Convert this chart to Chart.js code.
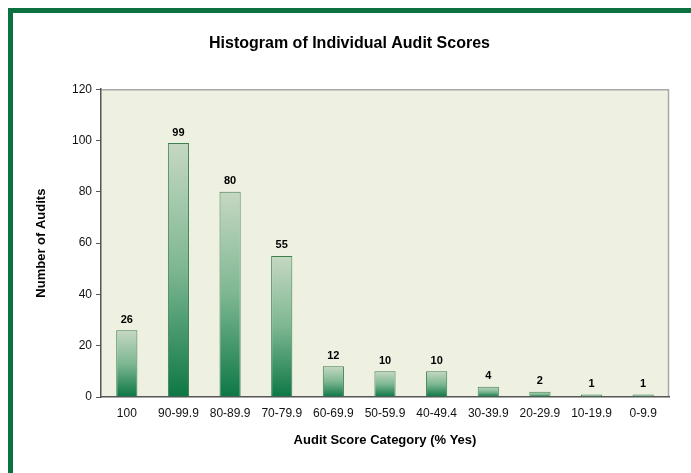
<!DOCTYPE html>
<html>
<head>
<meta charset="utf-8">
<script src="https://cdn.jsdelivr.net/npm/chart.js@4.4.0/dist/chart.umd.min.js"></script>
<style>
  html, body { margin: 0; padding: 0; background: #fff; }
  #wrap { position: relative; width: 691px; height: 473px; }
  #frame { position: absolute; left: 8px; top: 8px; right: -10px; bottom: -10px;
           border-left: 5px solid #0B7140; border-top: 5px solid #0B7140; }
  canvas { position: absolute; left: 0; top: 0; }
</style>
</head>
<body>
<div id="wrap">
  <div id="frame"></div>
  <canvas id="bar_chart" width="691" height="473"></canvas>
</div>
<script>
var categories = ['100', '90-99.9', '80-89.9', '70-79.9', '60-69.9', '50-59.9', '40-49.4', '30-39.9', '20-29.9', '10-19.9', '0-9.9'];
var audits = [26, 99, 80, 55, 12, 10, 10, 4, 2, 1, 1];
var yTicks = [0, 20, 40, 60, 80, 100, 120];

var barChart;

// plot area fill + gray frame on top/right
var plotBackground = {
  id: 'plotBackground',
  beforeDraw: function(chart) {
    var a = chart.chartArea;
    var ctx = chart.ctx;
    ctx.save();
    ctx.fillStyle = '#EEF1E2';
    ctx.fillRect(a.left, a.top, a.right - a.left, a.bottom - a.top);
    ctx.strokeStyle = '#A8A8A8';
    ctx.lineWidth = 1.5;
    ctx.beginPath();
    ctx.moveTo(a.left, a.top + 0.5);
    ctx.lineTo(a.right - 0.5, a.top + 0.5);
    ctx.lineTo(a.right - 0.5, a.bottom);
    ctx.stroke();
    ctx.restore();
  }
};

// value labels above each bar
var valueLabels = {
  id: 'valueLabels',
  afterDatasetsDraw: function(chart) {
    var ctx = chart.ctx;
    var meta = chart.getDatasetMeta(0);
    ctx.save();
    ctx.font = 'bold 11px "Liberation Sans", Arial, sans-serif';
    ctx.fillStyle = '#000';
    ctx.textAlign = 'center';
    ctx.textBaseline = 'bottom';
    meta.data.forEach(function(bar, i) {
      ctx.fillText(audits[i], bar.x, bar.y - 5);
    });
    ctx.restore();
  }
};

// light-to-dark gradient per bar, top of bar down to zero line
function barGradient(context) {
  var chart = context.chart;
  var y = chart.scales && chart.scales.y;
  if (!chart.chartArea || !y || context.raw === undefined) return '#5FA877';
  var top = y.getPixelForValue(context.raw);
  var bottom = y.getPixelForValue(0);
  if (!isFinite(top) || !isFinite(bottom) || top === bottom) return '#5FA877';
  var g = chart.ctx.createLinearGradient(0, top, 0, bottom);
  g.addColorStop(0, '#C6D8C2');
  g.addColorStop(0.5, '#7DB792');
  g.addColorStop(1, '#0D7745');
  return g;
}

document.addEventListener('DOMContentLoaded', function() {
  var ctx = document.getElementById('bar_chart');
  barChart = new Chart(ctx, {
    type: 'bar',
    data: {
      labels: categories,
      datasets: [{
        label: 'Number of Audits',
        data: audits,
        backgroundColor: barGradient,
        borderColor: '#3F7F4F',
        borderWidth: 1,
        borderSkipped: 'bottom',
        barPercentage: 0.41,
        categoryPercentage: 1.0
      }]
    },
    options: {
      responsive: false,
      animation: false,
      layout: { padding: { left: 30, right: 22, top: 0, bottom: 25 } },
      plugins: {
        legend: { display: false },
        tooltip: { enabled: false },
        title: {
          display: true,
          text: 'Histogram of Individual Audit Scores',
          color: '#000',
          font: { family: '"Liberation Sans", Arial, sans-serif', size: 16, weight: 'bold' },
          padding: { top: 34, bottom: 36 }
        }
      },
      scales: {
        x: {
          grid: { display: false, drawOnChartArea: false, tickLength: 5, offset: true, color: '#555' },
          border: { color: '#555', width: 1.5 },
          ticks: {
            color: '#111',
            padding: 4,
            maxRotation: 0,
            font: { family: '"Liberation Sans", Arial, sans-serif', size: 12 }
          },
          title: {
            display: true,
            text: 'Audit Score Category (% Yes)',
            color: '#000',
            font: { family: '"Liberation Sans", Arial, sans-serif', size: 13, weight: 'bold' },
            padding: { top: 8, bottom: 0 }
          }
        },
        y: {
          min: 0,
          max: 120,
          afterFit: function(scale) { scale.width = 71; },
          afterBuildTicks: function(scale) {
            scale.ticks = yTicks.map(function(v) { return { value: v }; });
          },
          grid: { drawOnChartArea: false, tickLength: 5, color: '#555' },
          border: { color: '#555', width: 1.5 },
          ticks: {
            color: '#111',
            padding: 4,
            font: { family: '"Liberation Sans", Arial, sans-serif', size: 12 }
          },
          title: {
            display: true,
            text: 'Number of Audits',
            color: '#000',
            font: { family: '"Liberation Sans", Arial, sans-serif', size: 13, weight: 'bold' },
            padding: { top: 4, bottom: 4 }
          }
        }
      }
    },
    plugins: [plotBackground, valueLabels]
  });
});
</script>
</body>
</html>
